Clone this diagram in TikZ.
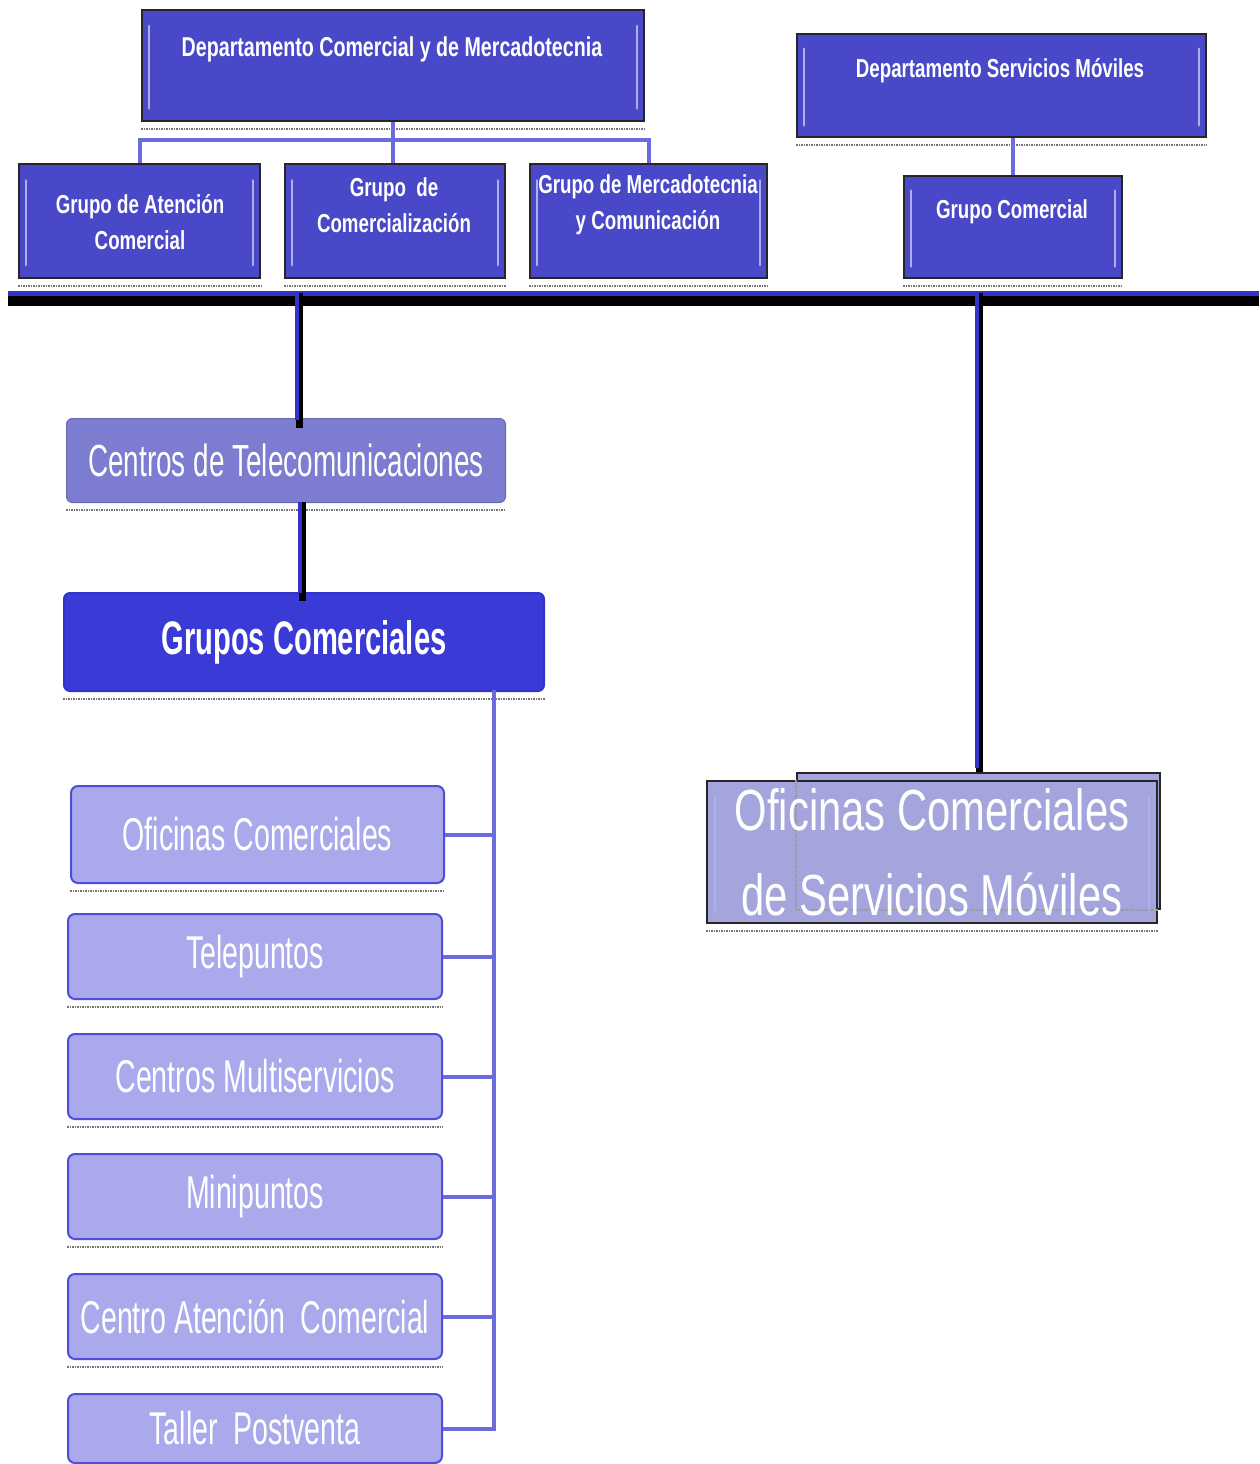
\documentclass[tikz,border=0pt]{standalone}
\usepackage{fontspec}
\setmainfont{Liberation Sans}
\newfontfamily\narA{Liberation Sans}[FakeStretch=0.62]
\newfontfamily\narB{Liberation Sans}[FakeStretch=0.72]
\usetikzlibrary{calc}
\definecolor{dkfill}{RGB}{72,72,200}
\definecolor{dkbevel}{RGB}{175,175,240}
\definecolor{connc}{RGB}{107,107,221}
\definecolor{mainln}{RGB}{51,51,204}
\definecolor{ctfill}{RGB}{124,124,208}
\definecolor{gcfill}{RGB}{58,58,214}
\definecolor{chfill}{RGB}{169,169,236}
\definecolor{chdraw}{RGB}{77,77,217}
\definecolor{rbfill}{RGB}{165,165,221}
\newcommand\mybevel[1]{%
  \draw[bevelln] ($(#1.north west)!0.15!(#1.south west)+(8,0)$) -- ($(#1.north west)!0.88!(#1.south west)+(8,0)$);
  \draw[bevelln] ($(#1.north east)!0.15!(#1.south east)+(-8,0)$) -- ($(#1.north east)!0.88!(#1.south east)+(-8,0)$);}
\newcommand\myshadow[1]{%
  \draw[shdln] ([yshift=-7pt]#1.south west) -- ([yshift=-7pt]#1.south east);}
\begin{document}
\begin{tikzpicture}[x=1pt,y=-1pt,
  darkbox/.style={draw=black!85,line width=2pt,fill=dkfill,anchor=north west,inner sep=0pt},
  toptxt/.style={text=white,font=\narB\bfseries\fontsize{26}{36}\selectfont,align=center,inner sep=0pt},
  ctbox/.style={anchor=north west,inner sep=0pt,rounded corners=6pt,fill=ctfill,draw=ctfill!85!black,line width=1pt,
    text=white,font=\narA\fontsize{45}{50}\selectfont},
  gcbox/.style={anchor=north west,inner sep=0pt,rounded corners=6pt,fill=gcfill,draw=mainln,line width=2pt,
    text=white,font=\narA\bfseries\fontsize{47}{50}\selectfont},
  chbox/.style={anchor=north west,inner sep=0pt,rounded corners=7pt,fill=chfill,draw=chdraw,line width=2pt,
    text=white,font=\narA\fontsize{46}{50}\selectfont},
  rbox/.style={anchor=north west,inner sep=0pt,fill=rbfill,draw=black!85,line width=2pt},
  rbtxt/.style={text=white,font=\narB\fontsize{58}{85}\selectfont,align=center,inner sep=0pt},
  connln/.style={draw=connc,line width=4pt},
  blueln/.style={draw=mainln,line width=4pt},
  blackln/.style={draw=black,line width=7pt},
  bevelln/.style={draw=dkbevel,line width=2.5pt,line cap=round},
  shdln/.style={draw=black!55,line width=1.5pt,densely dotted}
]
\useasboundingbox (0,0) rectangle (1259,1464);
\fill[white] (0,0) rectangle (1259,1464);

% ---- top boxes
\node[darkbox,minimum width=502pt,minimum height=111pt] (dcm) at (141,9) {};
\node[darkbox,minimum width=241pt,minimum height=114pt] (gac) at (18,163) {};
\node[darkbox,minimum width=220pt,minimum height=114pt] (gcz) at (284,163) {};
\node[darkbox,minimum width=237pt,minimum height=114pt] (gmc) at (529,163) {};
\node[darkbox,minimum width=409pt,minimum height=103pt] (dsm) at (796,33) {};
\node[darkbox,minimum width=218pt,minimum height=102pt] (gcm) at (903,175) {};
\foreach \b in {dcm,gac,gcz,gmc,dsm,gcm}{\mybevel{\b}\myshadow{\b}}

\node[toptxt,font=\narB\bfseries\fontsize{27.3}{36}\selectfont] (dcm-t) at (392,49) {Departamento Comercial y de Mercadotecnia};
\node[toptxt] (gac-t) at (140,222) {Grupo de Atención\\Comercial};
\node[toptxt] (gcz-t) at (394,205) {Grupo\ \ de\\Comercialización};
\node[toptxt] (gmc-t) at (648,205) {Grupo de Mercadotecnia\\y Comunicación};
\node[toptxt] (dsm-t) at (1000,71) {Departamento Servicios Móviles};
\node[toptxt] (gcm-t) at (1012,212) {Grupo Comercial};

% top connectors
\draw[connln] (gac.north) -- ++(0,-23) -| (gmc.north);
\draw[connln] (dcm.south) -- (dcm.south |- gcz.north);
\draw[connln] (dsm.south -| gcm.north) -- (gcm.north);

% ---- horizontal bar
\fill[black] (8,296) rectangle (1259,306);
\fill[mainln] (8,291) rectangle (1259,296);
\coordinate (barL) at (297,293);
\coordinate (barR) at (977,293);

% ---- left column
\node[ctbox,minimum width=439pt,minimum height=84pt] (ct) at (66,418) {Centros de Telecomunicaciones};
\node[gcbox,minimum width=480pt,minimum height=98pt] (gcs) at (63,592) {Grupos Comerciales};
\myshadow{ct}\myshadow{gcs}

\node[chbox,minimum width=373pt,minimum height=97pt] (c1) at (70,785) {Oficinas Comerciales};
\node[chbox,minimum width=374pt,minimum height=85pt] (c2) at (67,913) {Telepuntos};
\node[chbox,minimum width=374pt,minimum height=85pt] (c3) at (67,1033) {Centros Multiservicios};
\node[chbox,minimum width=374pt,minimum height=85pt] (c4) at (67,1153) {Minipuntos};
\node[chbox,minimum width=374pt,minimum height=85pt] (c5) at (67,1273) {Centro Atención\ \ Comercial};
\node[chbox,minimum width=374pt,minimum height=69pt] (c6) at (67,1393) {Taller\ \ Postventa};
\foreach \b in {c1,c2,c3,c4,c5}{\myshadow{\b}}

% main vertical lines
\draw[blackln] ([xshift=2pt]barL) -- ([xshift=2pt,yshift=-10pt]barL |- ct.north);
\draw[blueln] (barL) -- ([yshift=-2pt]barL |- ct.north);
\coordinate (cl) at (300,502);
\draw[blackln] ([xshift=2pt]cl) -- ([xshift=2pt,yshift=-9pt]cl |- gcs.north);
\draw[blueln] (cl) -- ([yshift=-1pt]cl |- gcs.north);

% trunk to children
\coordinate (tr) at (494,690);
\draw[connln] (tr) -- (tr |- c6.east) -- (c6.east);
\foreach \c in {c1,c2,c3,c4,c5}{\draw[connln] (\c.east) -- (\c.east -| tr);}

% ---- right column
\node[rbox,minimum width=363pt,minimum height=136pt] (rbb) at (796,772) {};
\node[rbox,minimum width=450pt,minimum height=142pt] (rb) at (706,780) {};
\draw[shdln,draw=black!40] (rbb.north west |- rb.north) -- (rbb.south west) -- (rbb.south east -| rb.east);
\draw[bevelln] ($(rb.north west)!0.12!(rb.south west)+(9,0)$) -- ($(rb.north west)!0.9!(rb.south west)+(9,0)$);
\draw[bevelln] ($(rb.north east)!0.12!(rb.south east)+(-9,0)$) -- ($(rb.north east)!0.9!(rb.south east)+(-9,0)$);
\node[rbtxt] (rb-t) at (rb.center) {Oficinas Comerciales\\de Servicios Móviles};
\draw[shdln] ([yshift=-7pt]rb.south west) -- ([yshift=-7pt]rb.south east);
\draw[blackln] ([xshift=2pt]barR) -- ([xshift=2pt]barR |- rbb.north);
\draw[blueln] (barR) -- ([yshift=4pt]barR |- rbb.north);
\end{tikzpicture}
\end{document}
